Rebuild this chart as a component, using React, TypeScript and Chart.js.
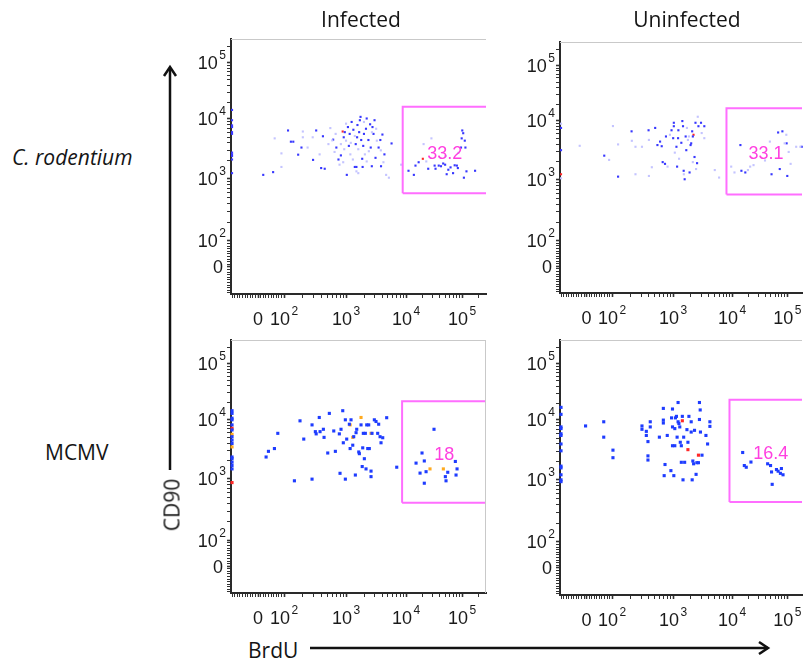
import React, { useEffect, useRef } from 'react';
import { Chart, registerables, LinearScale } from 'chart.js';

Chart.register(...registerables);

// ---------- axis ticks ----------
const MAJOR_TICKS = [0, 100, 1000, 10000, 100000];
const TICK_BASE = ['0', '10', '10', '10', '10'];
const TICK_EXP = ['', '2', '3', '4', '5'];
const AXIS_MIN = -104;
const AXIS_MAX = 268000;
const AXIS_MAX_CLIPPED = 185000;

// ---------- data: [BrdU, CD90] ----------
// C. rodentium, Infected
const infCrodBlue: [number, number][] = [
  [-100, 14500], [-100, 9530], [-100, 7820], [-100, 7330], [-100, 6030], [-100, 5650], [-100, 2750], [-100, 2570], [-100, 2410], [-100, 2110], [-100, 1250],
  [20, 1170], [58, 1300], [116, 6430], [129, 4180], [141, 4180], [169, 2540], [191, 3340], [294, 2080], [330, 6430], [424, 5150], [397, 1520], [453, 1480],
  [620, 4520], [698, 3340], [755, 2110], [826, 2470], [918, 4950], [955, 6030], [1030, 1170], [1075, 7330], [1115, 3560], [1150, 5640], [1240, 8910],
  [1325, 6610], [1400, 1585], [1450, 3810], [1490, 1585], [1530, 4950], [1550, 7930], [1655, 6030], [1700, 9530], [1745, 10900], [1790, 4460], [1860, 2170],
  [1890, 1585], [1935, 3560], [1990, 5640], [2150, 6870], [2210, 10200], [2360, 4460], [2520, 8150], [2580, 3340], [2690, 1630], [2760, 7330], [2870, 5640],
  [2985, 9530], [3100, 2250], [3490, 3340], [3730, 4460], [3830, 1630], [4040, 5500], [4365, 2570], [5740, 3910],
  [11070, 1370], [13800, 1170], [14750, 1670], [16800, 1900], [24900, 1480], [32400, 1670], [33650, 1480], [38400, 1670], [42100, 1630], [46100, 1810],
  [49900, 1730], [53200, 1200], [56900, 1425], [62400, 1560], [69200, 1250], [73900, 1690], [80900, 1670], [84200, 1520], [96000, 3340], [98600, 4750],
  [101000, 6430], [105000, 5790], [108000, 1050], [112000, 4350], [115000, 3340], [120000, 1340], [171000, 1370],
];
const infCrodFaint: [number, number][] = [
  [64, 4750], [90, 2670], [90, 1585], [201, 6180], [201, 4950], [290, 4950], [558, 7050], [653, 2820], [785, 1730], [935, 3130], [826, 3810], [1490, 1340],
  [4660, 1170], [5180, 1050], [28400, 4750], [1000, 4350], [1180, 2570], [1300, 2110], [1600, 3130], [2060, 2570], [2210, 1960], [3260, 4350], [680, 5640],
  [520, 3810], [375, 2570], [240, 3340], [1000, 8350], [1990, 8910], [3180, 6870], [1600, 1250], [8300, 1730], [23000, 1960], [51000, 2410], [86000, 2720],
  [20600, 3810], [1400, 5200], [2400, 2900], [900, 1900], [3800, 3000], [2700, 6000], [1200, 4000], [600, 4400], [4200, 1900],
];
const infCrodRed: [number, number][] = [[883, 6180], [19950, 2170]];

// C. rodentium, Uninfected
const uninfCrodBlue: [number, number][] = [
  [-100, 7550], [-100, 3170], [69, 2560], [125, 1130], [208, 6610], [395, 6890], [507, 7550], [552, 3870], [610, 4430], [649, 3700], [673, 1990], [735, 1860],
  [762, 5410], [940, 6890], [1000, 5060], [1026, 9230], [1026, 8070], [1136, 3620], [1166, 1670], [1211, 5060], [1225, 6890], [1375, 4230], [1430, 9860],
  [1468, 8070], [1507, 1420], [1565, 1020], [1628, 5410], [1668, 3170], [1897, 1330], [1972, 3870], [2020, 4140], [2099, 6610], [2154, 5410], [2300, 2430],
  [2388, 9230], [2541, 1910], [2680, 8070], [2964, 9230], [3370, 8070], [14100, 3870], [14700, 1420], [17300, 1330], [51800, 1240], [68200, 6320],
  [73000, 1520], [81500, 6610], [97300, 4140], [100000, 1160], [183000, 3620],
];
const uninfCrodFaint: [number, number][] = [
  [-100, 8900], [-100, 1060], [-27, 3760], [88, 2170], [103, 8120], [125, 3970], [210, 4570], [241, 3620], [241, 1240], [308, 3620], [400, 4730], [400, 1160],
  [447, 1630], [809, 1670], [885, 5780], [1066, 2880], [1259, 2270], [1515, 1240], [1711, 7550], [1778, 4730], [1848, 5410], [2154, 1990], [2444, 1520],
  [2610, 11800], [3041, 6180], [3370, 5060], [5070, 1460], [6000, 1090], [9620, 1670], [11000, 1330], [19300, 1460], [21200, 1670], [24400, 1770],
  [39400, 2120], [48300, 4430], [89600, 4140], [96000, 5780], [106000, 2960], [115000, 1860], [145000, 3620], [173000, 3620],
];
const uninfCrodRed: [number, number][] = [[-100, 1240], [2213, 5780]];

// MCMV, Infected
const infMcmvBlue: [number, number][] = [
  [-100, 14300], [-100, 12800], [-100, 10500], [-100, 9820], [-100, 8070], [-100, 6630], [-100, 5110], [-100, 4480], [-100, 3930], [-100, 2330], [-100, 2180],
  [-100, 1910], [-100, 1680], [-100, 1470],
  [31, 2330], [40, 2900], [63, 3230], [76, 5820], [147, 930], [181, 9440], [208, 4660], [283, 8070], [283, 990], [320, 6210], [330, 5700], [370, 10800],
  [381, 6210], [431, 6810], [442, 4980], [507, 2720], [538, 12800], [634, 6380], [673, 2900], [780, 5700], [800, 1240], [830, 6810], [885, 14300], [904, 4040],
  [975, 9820], [975, 990], [1026, 4660], [1136, 8280], [1170, 3230], [1211, 9820], [1294, 3680], [1343, 5110], [1430, 1160], [1470, 5970], [1507, 6810],
  [1630, 2830], [1668, 2650], [1778, 8070], [1860, 1610], [1897, 3320], [1941, 5820], [2020, 2180], [2099, 5820], [2154, 1470], [2213, 8070], [2300, 3230],
  [2388, 8070], [2444, 3230], [2610, 1090], [2610, 1350], [2710, 5820], [2964, 9820], [3162, 9200], [3370, 5820], [3500, 8280], [3690, 5110], [3830, 4040],
  [4090, 4910], [4760, 10700], [7000, 1570],
  [15100, 1840], [19300, 2720], [21200, 2000], [17800, 1250], [22800, 1320], [21200, 850], [31600, 6810], [50400, 1090], [51800, 930], [55600, 1290],
  [76000, 1960], [78200, 1160], [81500, 1470],
];
const infMcmvOrange: [number, number][] = [
  [-100, 5600], [-100, 3440], [1778, 10800], [1170, 8070], [1294, 4980], [2610, 5820], [26800, 1470], [46400, 1470],
];
const infMcmvRed: [number, number][] = [[-100, 7080], [-100, 870]];

// MCMV, Uninfected
const uninfMcmvBlue: [number, number][] = [
  [-100, 16800], [-100, 12600], [-100, 7660], [-100, 7180], [-100, 5890], [-100, 5520], [-100, 3980], [-100, 3060], [-100, 1700], [-100, 1590], [-100, 1220],
  [-100, 1005], [-100, 940],
  [-4, 7950], [67, 9330], [67, 5170], [103, 3140], [103, 2350], [308, 7950], [308, 6990], [363, 6460], [363, 5520], [386, 4360], [386, 2520], [386, 2150],
  [421, 9330], [421, 7660], [594, 5170], [690, 16100], [690, 9950], [690, 8900], [735, 1810], [712, 1180], [800, 5520], [918, 1430], [940, 10900],
  [975, 15700], [975, 7660], [975, 3720], [1026, 1180], [1066, 7180], [1066, 3720], [1094, 10900], [1136, 11600], [1166, 5170], [1211, 20500], [1211, 9330],
  [1250, 8730], [1294, 7660], [1320, 4250], [1375, 3720], [1375, 1970], [1430, 11600], [1468, 1005], [1507, 5170], [1565, 1970], [1711, 6900], [1778, 4250],
  [1848, 11600], [2020, 9330], [2020, 6290], [2099, 1005], [2154, 2070], [2220, 1860], [2300, 6720], [2444, 1240], [2520, 1940], [2680, 1940], [2786, 20500],
  [2786, 10200], [2870, 15100], [3080, 2590], [2900, 6290], [3590, 5520], [3830, 3980], [4190, 9330], [4190, 7820],
  [15500, 2870], [16600, 1740], [18000, 1630], [21900, 1990], [44000, 1860], [49700, 1740], [51800, 1360], [53200, 850], [63600, 1490], [68200, 1400],
  [75000, 1290], [78200, 1550], [83700, 1220],
];
const uninfMcmvRed: [number, number][] = [[1430, 9700], [1778, 3200], [2680, 2590]];

// gates: [left, right] on BrdU, [bottom, top] on CD90, and gate frequencies
const gateInfCrodX = [8800, 300000];
const gateInfCrodY = [590, 16600];
const gateUninfCrodX = [8000, 300000];
const gateUninfCrodY = [573, 16800];
const gateInfMcmvX = [8600, 300000];
const gateInfMcmvY = [410, 21200];
const gateUninfMcmvX = [9000, 300000];
const gateUninfMcmvY = [440, 23000];
const gatePercents = ['33.2', '33.1', '18', '16.4'];
const gateLabelX = [49000, 41000, 48000, 50000];
const gateLabelY = [2600, 2700, 2500, 2700];

// ---------- biexponential-like display transform ----------
function tf(v: number): number {
  if (v < 100) return 27 + v * 0.26;
  const l = Math.log10(v);
  if (l < 3) return 53 + (l - 2) * 62;
  if (l < 4) return 115 + (l - 3) * 60;
  return 175 + (l - 4) * 56;
}
function itf(p: number): number {
  if (p < 53) return (p - 27) / 0.26;
  if (p < 115) return Math.pow(10, 2 + (p - 53) / 62);
  if (p < 175) return Math.pow(10, 3 + (p - 115) / 60);
  return Math.pow(10, 4 + (p - 175) / 56);
}

class BiexScale extends LinearScale {
  static id = 'biex';
  getPixelForValue(value: number) {
    const a = tf(this.min);
    const b = tf(this.max);
    return this.getPixelForDecimal((tf(value) - a) / (b - a));
  }
  getValueForPixel(pixel: number) {
    const a = tf(this.min);
    const b = tf(this.max);
    return itf(a + this.getDecimalForPixel(pixel) * (b - a));
  }
}
Chart.register(BiexScale as any);

function allTicks(min: number, max: number): number[] {
  const out: number[] = [];
  for (let v = -100; v < 100; v += 10) out.push(v);
  for (let d = 2; d <= 5; d++) for (let k = 1; k <= 9; k++) out.push(k * Math.pow(10, d));
  return out.filter((v) => v >= min && v <= max);
}

const TICK_FAMILY = '"Liberation Sans", Arial, sans-serif';

function axis(kind: 'x' | 'y', max: number) {
  return {
    type: 'biex',
    min: AXIS_MIN,
    max,
    bounds: 'data',
    border: { display: true, color: '#2a2a2a', width: 2 },
    grid: {
      display: true,
      drawOnChartArea: false,
      drawTicks: true,
      tickLength: 4,
      tickColor: '#333',
      tickWidth: (ctx: any) => (ctx.tick && MAJOR_TICKS.includes(ctx.tick.value) ? 1.6 : 1),
    },
    ticks: {
      display: false,
      autoSkip: false,
      callback: (value: number) => {
        const i = MAJOR_TICKS.indexOf(value);
        return i >= 0 ? TICK_BASE[i] + TICK_EXP[i] : '';
      },
    },
    afterBuildTicks: (s: any) => {
      s.ticks = allTicks(s.min, s.max).map((v) => ({ value: v }));
    },
    afterFit: (s: any) => {
      if (kind === 'x') s.height = 40;
      else s.width = 60;
    },
  };
}

// draws "10" with a raised exponent at the major tick positions of each axis
function drawTickLabels(ctx: CanvasRenderingContext2D, scale: any, kind: 'x' | 'y', area: any) {
  const BASE = 18;
  const EXP = 12;
  const GAP = 1.5;
  ctx.fillStyle = '#1a1a1a';
  ctx.textAlign = 'left';
  ctx.textBaseline = 'alphabetic';
  MAJOR_TICKS.forEach((v, i) => {
    if (v < scale.min || v > scale.max) return;
    const base = TICK_BASE[i];
    const exp = TICK_EXP[i];
    ctx.font = `${BASE}px ${TICK_FAMILY}`;
    const wb = ctx.measureText(base).width;
    ctx.font = `${EXP}px ${TICK_FAMILY}`;
    const we = exp ? ctx.measureText(exp).width + GAP : 0;
    const total = wb + we;
    let x0: number;
    let yc: number;
    if (kind === 'x') {
      x0 = scale.getPixelForValue(v) - total / 2;
      yc = area.bottom + 25;
    } else {
      x0 = area.left - (exp ? 5 : 8) - total;
      yc = scale.getPixelForValue(v);
    }
    ctx.font = `${BASE}px ${TICK_FAMILY}`;
    ctx.fillText(base, x0, yc + 0.358 * BASE);
    if (exp) {
      ctx.font = `${EXP}px ${TICK_FAMILY}`;
      ctx.fillText(exp, x0 + wb + GAP, yc - 8 + 0.358 * EXP);
    }
  });
}

const framePlugin = {
  id: 'frame',
  afterDraw(chart: any, _args: any, opts: any) {
    const { ctx, chartArea: a } = chart;
    ctx.save();
    ctx.strokeStyle = '#c9c9c9';
    ctx.lineWidth = 1;
    ctx.beginPath();
    ctx.moveTo(a.left, a.top + 0.5);
    ctx.lineTo(a.right, a.top + 0.5);
    if (opts.right) {
      ctx.moveTo(a.right - 0.5, a.top);
      ctx.lineTo(a.right - 0.5, a.bottom);
    }
    ctx.stroke();
    const xs = chart.scales.x;
    const ys = chart.scales.y;
    drawTickLabels(ctx, xs, 'x', a);
    drawTickLabels(ctx, ys, 'y', a);
    ctx.fillStyle = '#ff3fe0';
    ctx.font = `18px ${TICK_FAMILY}`;
    ctx.textAlign = 'center';
    ctx.textBaseline = 'middle';
    ctx.fillText(opts.label, xs.getPixelForValue(opts.lx), ys.getPixelForValue(opts.ly));
    ctx.restore();
  },
};

type Series = { pts: [number, number][]; color: string; r: number };
type Panel = {
  left: number; top: number; w: number; h: number; padR: number; xMax: number; right: boolean;
  series: Series[]; gx: number[]; gy: number[]; idx: number;
};

const STRONG = 'rgb(55,55,255)';
const FAINT = 'rgb(196,196,255)';
const RED = 'rgb(255,40,40)';
const ORANGE = 'rgb(255,170,30)';
const BLUE = 'rgb(30,60,255)';

const panels: Panel[] = [
  {
    left: 231, top: 39, w: 255, h: 255, padR: 4, xMax: AXIS_MAX, right: false, idx: 0,
    gx: gateInfCrodX, gy: gateInfCrodY,
    series: [
      { pts: infCrodFaint, color: FAINT, r: 1.5 },
      { pts: infCrodBlue, color: STRONG, r: 1.5 },
      { pts: infCrodRed, color: RED, r: 1.5 },
    ],
  },
  {
    left: 560, top: 42, w: 246, h: 251, padR: 0, xMax: AXIS_MAX_CLIPPED, right: false, idx: 1,
    gx: gateUninfCrodX, gy: gateUninfCrodY,
    series: [
      { pts: uninfCrodFaint, color: FAINT, r: 1.5 },
      { pts: uninfCrodBlue, color: STRONG, r: 1.5 },
      { pts: uninfCrodRed, color: RED, r: 1.5 },
    ],
  },
  {
    left: 231, top: 340, w: 255, h: 253, padR: 4, xMax: AXIS_MAX, right: true, idx: 2,
    gx: gateInfMcmvX, gy: gateInfMcmvY,
    series: [
      { pts: infMcmvBlue, color: BLUE, r: 2.2 },
      { pts: infMcmvOrange, color: ORANGE, r: 2.2 },
      { pts: infMcmvRed, color: RED, r: 2.2 },
    ],
  },
  {
    left: 560, top: 340, w: 246, h: 255, padR: 0, xMax: AXIS_MAX_CLIPPED, right: false, idx: 3,
    gx: gateUninfMcmvX, gy: gateUninfMcmvY,
    series: [
      { pts: uninfMcmvBlue, color: BLUE, r: 2.2 },
      { pts: uninfMcmvRed, color: RED, r: 2.2 },
    ],
  },
];

function FlowPanel({ p }: { p: Panel }) {
  const ref = useRef<HTMLCanvasElement | null>(null);
  const cw = 60 + p.w + p.padR;
  const ch = 10 + p.h + 40;
  useEffect(() => {
    if (!ref.current) return;
    const gate = [
      { x: p.gx[0], y: p.gy[0] },
      { x: p.gx[0], y: p.gy[1] },
      { x: p.gx[1], y: p.gy[1] },
      { x: p.gx[1], y: p.gy[0] },
      { x: p.gx[0], y: p.gy[0] },
    ];
    const chart = new Chart(ref.current, {
      type: 'scatter',
      data: {
        datasets: [
          {
            data: gate,
            showLine: true,
            borderColor: 'rgb(255,110,255)',
            borderWidth: 2,
            pointRadius: 0,
            fill: false,
            tension: 0,
            clip: 0,
          } as any,
          ...p.series.map((s) => ({
            data: s.pts.map(([x, y]) => ({ x, y })),
            backgroundColor: s.color,
            borderWidth: 0,
            pointStyle: 'rect',
            pointRadius: s.r,
            pointBorderWidth: 0,
            showLine: false,
            clip: false,
          })),
        ],
      },
      options: {
        responsive: false,
        animation: false,
        events: [],
        layout: { padding: { top: 10, right: p.padR, left: 0, bottom: 0 } },
        plugins: {
          legend: { display: false },
          tooltip: { enabled: false },
          frame: { right: p.right, label: gatePercents[p.idx], lx: gateLabelX[p.idx], ly: gateLabelY[p.idx] },
        } as any,
        scales: {
          x: axis('x', p.xMax) as any,
          y: axis('y', AXIS_MAX) as any,
        },
      },
      plugins: [framePlugin],
    } as any);
    return () => chart.destroy();
  }, []);
  return (
    <canvas
      ref={ref}
      width={cw}
      height={ch}
      style={{ position: 'absolute', left: p.left - 60, top: p.top - 10, width: cw, height: ch }}
    />
  );
}

const LABEL_FONT = '"Open Sans", "DejaVu Sans", sans-serif';
const base: React.CSSProperties = {
  position: 'absolute',
  fontFamily: LABEL_FONT,
  fontSize: 21,
  color: '#151515',
  whiteSpace: 'nowrap',
  lineHeight: 1,
};

export default function App() {
  return (
    <div style={{ position: 'absolute', left: 0, top: 0, width: 806, height: 663, background: '#fff', overflow: 'hidden' }}>
      <svg width={806} height={663} style={{ position: 'absolute', left: 0, top: 0 }}>
        <line x1={170} y1={470} x2={170} y2={68} stroke="#111" strokeWidth={2.5} />
        <polyline points="164,76 170,67 176,76" fill="none" stroke="#111" strokeWidth={2.5} />
        <line x1={310} y1={648} x2={768} y2={648} stroke="#111" strokeWidth={2.5} />
        <polyline points="759,642 768,648 759,654" fill="none" stroke="#111" strokeWidth={2.5} />
      </svg>
      {panels.map((p, i) => (
        <FlowPanel key={i} p={p} />
      ))}
      <div style={{ ...base, left: 361, top: 19, transform: 'translate(-50%, -50%)' }}>Infected</div>
      <div style={{ ...base, left: 687, top: 19, transform: 'translate(-50%, -50%)' }}>Uninfected</div>
      <div style={{ ...base, left: 12, top: 157, transform: 'translate(0, -50%)', fontStyle: 'italic' }}>C. rodentium</div>
      <div style={{ ...base, left: 45, top: 452, transform: 'translate(0, -50%)' }}>MCMV</div>
      <div style={{ ...base, left: 172, top: 505, transform: 'translate(-50%, -50%) rotate(-90deg)' }}>CD90</div>
      <div style={{ ...base, left: 248, top: 650, transform: 'translate(0, -50%)' }}>BrdU</div>
    </div>
  );
}
